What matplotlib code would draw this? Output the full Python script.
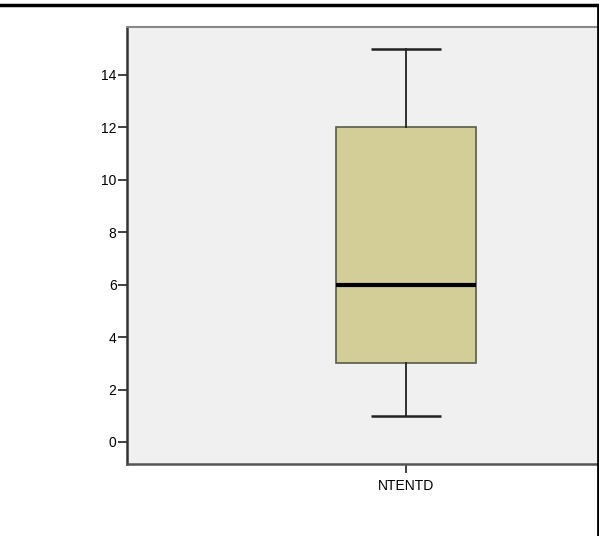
import matplotlib.pyplot as plt
from matplotlib.lines import Line2D

# summary stats of the single variable
labels = ["NTENTD"]
whislo = [1]
q1 = [3]
med = [6]
q3 = [12]
whishi = [15]
yticks = [0, 2, 4, 6, 8, 10, 12, 14]

stats = [
    {"label": labels[i], "whislo": whislo[i], "q1": q1[i], "med": med[i],
     "q3": q3[i], "whishi": whishi[i], "fliers": []}
    for i in range(len(labels))
]

plt.rcParams["font.family"] = ["Liberation Sans", "DejaVu Sans"]

fig = plt.figure(figsize=(5.99, 5.36), dpi=100)
ax = fig.add_axes([127 / 599, 1 - 464 / 536, 470 / 599, 437 / 536])
ax.set_facecolor("#f0f0f0")

ax.bxp(stats, positions=[1], widths=0.298, patch_artist=True, showfliers=False,
       boxprops=dict(facecolor="#d3ce97", edgecolor="#5a5a48", linewidth=1.2),
       medianprops=dict(color="black", linewidth=3),
       whiskerprops=dict(color="#222222", linewidth=1.3),
       capprops=dict(color="#222222", linewidth=1.8, solid_capstyle="butt"),
       capwidths=0.149)

ax.set_xlim(0.406, 1.406)
ax.set_ylim(-0.84, 15.83)
ax.set_yticks(yticks)
ax.set_xticks([1])
ax.set_xticklabels(labels)
ax.tick_params(axis="both", labelsize=10, length=6.5, width=1.3, color="#333333")
ax.tick_params(axis="y", pad=1)
ax.tick_params(axis="x", pad=4)

ax.spines["left"].set_color("#333333")
ax.spines["left"].set_linewidth(1.8)
ax.spines["bottom"].set_color("#555555")
ax.spines["bottom"].set_linewidth(1.8)
ax.spines["top"].set_color("#888888")
ax.spines["top"].set_linewidth(1.5)
ax.spines["right"].set_visible(False)

# frame lines around the output
fig.add_artist(Line2D([0, 1], [1 - 5 / 536, 1 - 5 / 536], color="black", linewidth=2.5,
                      transform=fig.transFigure))
fig.add_artist(Line2D([597.5 / 599, 597.5 / 599], [0, 1 - 5 / 536], color="black", linewidth=2,
                      transform=fig.transFigure))

fig.savefig("out.png", dpi=100)
